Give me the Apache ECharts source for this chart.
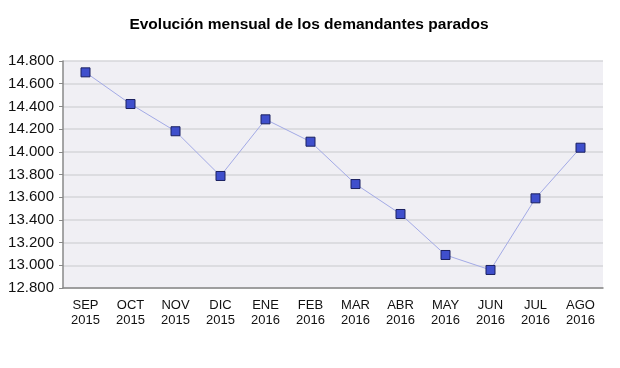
<!DOCTYPE html>
<html><head><meta charset="utf-8">
<script src="https://cdn.jsdelivr.net/npm/echarts@6/dist/echarts.min.js"></script>
<style>html,body{margin:0;padding:0;background:#fff}#c{width:620px;height:368px}</style>
</head><body><div id="c"></div>
<script>
const title = 'Evolución mensual de los demandantes parados';
const categories = ['SEP\n2015','OCT\n2015','NOV\n2015','DIC\n2015','ENE\n2016','FEB\n2016','MAR\n2016','ABR\n2016','MAY\n2016','JUN\n2016','JUL\n2016','AGO\n2016'];
const values = [14700, 14421, 14181, 13787, 14286, 14089, 13716, 13452, 13091, 12959, 13590, 14036];
const yMin = 12800, yMax = 14800, yStep = 200;

const chart = echarts.init(document.getElementById('c'), null, {renderer:'canvas'});
chart.setOption({
  animation:false,
  backgroundColor:'#fff',
  title:{text:title,left:304,textAlign:'center',top:12,textStyle:{fontFamily:'Liberation Sans, Arial, sans-serif',fontSize:15.5,fontWeight:'bold',color:'#000'}},
  grid:{left:63,right:17,top:61,bottom:80,show:true,backgroundColor:'#f0eff4',borderWidth:0},
  xAxis:{type:'category',data:categories,boundaryGap:true,
    axisLine:{lineStyle:{color:'#888',width:1.5}},axisTick:{show:false},
    axisLabel:{color:'#111',fontFamily:'Liberation Sans, Arial, sans-serif',fontSize:13,lineHeight:15,margin:10}},
  yAxis:{type:'value',min:yMin,max:yMax,interval:yStep,
    axisLine:{show:true,lineStyle:{color:'#888',width:1.5}},axisTick:{show:true,length:4,lineStyle:{color:'#888'}},
    splitLine:{lineStyle:{color:'#d6d6da',width:1.5}},
    axisLabel:{color:'#111',fontFamily:'Liberation Sans, Arial, sans-serif',fontSize:15,margin:9,
      formatter:v=>v.toLocaleString('de-DE',{minimumFractionDigits:3}).replace(/,.*/,'')}},
  series:[{type:'line',data:values,symbol:'rect',symbolSize:9,
    lineStyle:{color:'#a3aae6',width:1},
    itemStyle:{color:'#3f4fcc',borderColor:'#1a2060',borderWidth:1}}]
});
</script></body></html>
